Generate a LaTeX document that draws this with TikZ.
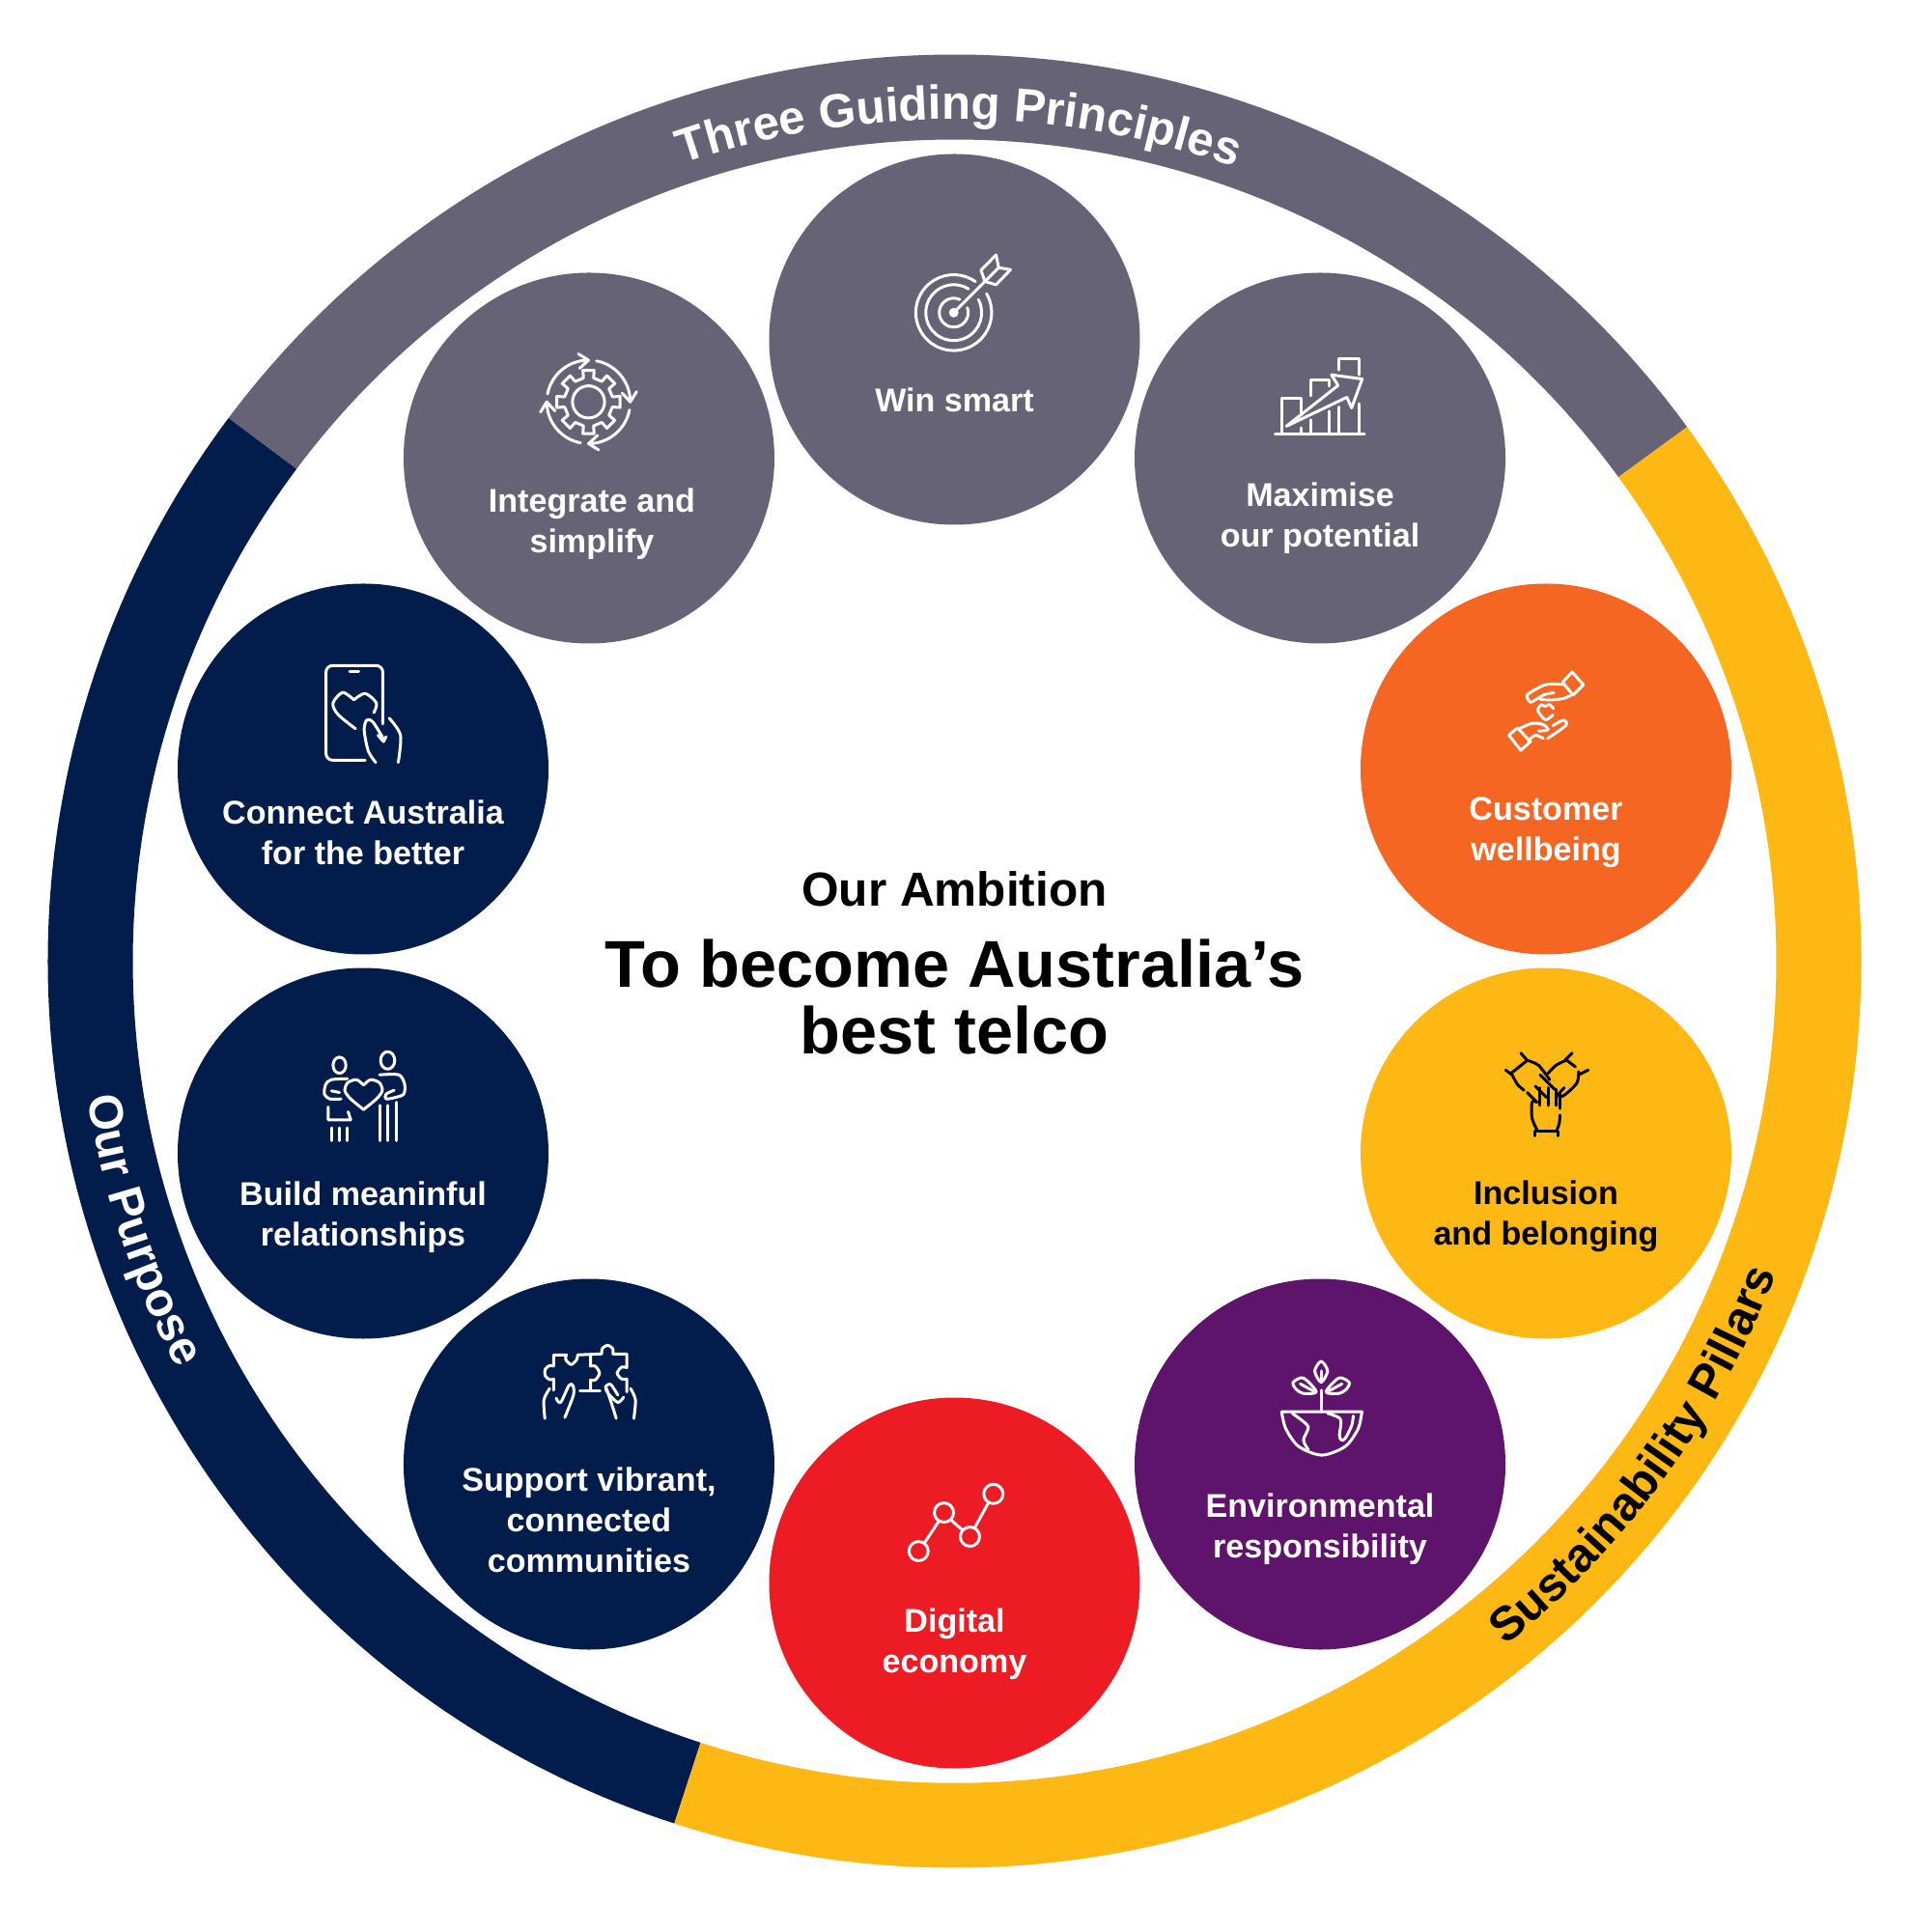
\documentclass[tikz,border=0pt]{standalone}
\usepackage{fontspec}
\setmainfont{Liberation Sans}
\usetikzlibrary{decorations.text}
\definecolor{pgrey}{RGB}{101,99,117}
\definecolor{pnavy}{RGB}{2,28,75}
\definecolor{pyellow}{RGB}{253,184,19}
\definecolor{porange}{RGB}{245,102,35}
\definecolor{pred}{RGB}{237,28,36}
\definecolor{ppurple}{RGB}{95,20,107}
\newcommand{\ringfont}{\bfseries\fontsize{14}{17}\selectfont}
\tikzset{
  pcircle/.style={circle, minimum size=3.84cm, inner sep=0pt},
  plabel/.style={align=center, inner sep=0pt, text=white,
    font=\bfseries\fontsize{9.7}{11.9}\selectfont},
  iconcrop/.style 2 args={shift={({(#1-988.5)/100},{(995.5-#2)/100})},
    x=0.003333cm, y=-0.003333cm},
  iconw/.style={draw=white, line width=0.85pt, line cap=round, line join=round},
  iconk/.style={draw=black, line width=0.85pt, line cap=round, line join=round}
}
\begin{document}
\begin{tikzpicture}
  \useasboundingbox (-9.885,-10.055) rectangle (9.895,9.955);
  % outer ring
  \foreach \c/\s/\e in {pgrey/36.1/143.2, pnavy/143.2/252, pyellow/252/396.1}{
    \fill[\c] (\s:8.51) arc[start angle=\s, end angle=\e, radius=8.51]
      -- (\e:9.39) arc[start angle=\e, end angle=\s, radius=9.39] -- cycle;
  }
  \path[decorate, decoration={text along path, text color=white, text align=center,
    text={|\ringfont|Three Guiding Principles}}]
    (129.7:8.72) arc[start angle=129.7, end angle=49.7, radius=8.72];
  \path[decorate, decoration={text along path, text color=white, text align=center,
    text={|\ringfont|Our Purpose}}]
    (170:9.09) arc[start angle=170, end angle=226.6, radius=9.09];
  \path[decorate, decoration={text along path, text color=black, text align=center,
    text={|\ringfont|Sustainability Pillars}}]
    (-76:9.1) arc[start angle=-76, end angle=4, radius=9.1];

  % circles
  \node[pcircle, fill=pgrey] (winsmart) at (90:6.44) {};
  \node[pcircle, fill=pgrey] (maximise) at (54:6.44) {};
  \node[pcircle, fill=porange] (wellbeing) at (18:6.44) {};
  \node[pcircle, fill=pyellow] (inclusion) at (-18:6.44) {};
  \node[pcircle, fill=ppurple] (environment) at (-54:6.44) {};
  \node[pcircle, fill=pred] (digital) at (-90:6.44) {};
  \node[pcircle, fill=pnavy] (support) at (-126:6.44) {};
  \node[pcircle, fill=pnavy] (build) at (-162:6.44) {};
  \node[pcircle, fill=pnavy] (connect) at (162:6.44) {};
  \node[pcircle, fill=pgrey] (integrate) at (126:6.44) {};

  % labels
  \node[plabel] (wintext) at ([yshift=-6.3mm]winsmart.center) {Win smart};
  \node[plabel] (maxtext) at ([yshift=-6.2mm]maximise.center) {Maximise\\our potential};
  \node[plabel] (welltext) at ([yshift=-6.6mm]wellbeing.center) {Customer\\wellbeing};
  \node[plabel, text=black] (inctext) at ([yshift=-6.5mm]inclusion.center) {Inclusion\\and belonging};
  \node[plabel] (envtext) at ([yshift=-6.7mm]environment.center) {Environmental\\responsibility};
  \node[plabel] (digtext) at ([yshift=-6.3mm]digital.center) {Digital\\economy};
  \node[plabel] (suptext) at ([yshift=-5.8mm]support.center) {Support vibrant,\\connected\\communities};
  \node[plabel] (buildtext) at ([yshift=-6.6mm]build.center) {Build meaninful\\relationships};
  \node[plabel] (context) at ([yshift=-6.6mm]connect.center) {Connect Australia\\for the better};
  \node[plabel] (inttext) at ([xshift=0.3mm,yshift=-6.8mm]integrate.center) {Integrate and\\simplify};

  % centre
  \node[align=center, inner sep=0pt, font=\bfseries\fontsize{14.1}{17}\selectfont] (ambition) at (0,0.75) {Our Ambition};
  \node[align=center, inner sep=0pt, font=\bfseries\fontsize{19.5}{19.4}\selectfont] (telco) at (0,-0.37)
    {To become Australia’s\\best telco};

  % gear
  \begin{scope}[iconcrop={523}{240}]
    \draw[iconw, shift={(260,530)}] (-12:76) \foreach \a in {0,45,...,315}{
      -- (\a-12:76) -- (\a-10:100) -- (\a+10:100) -- (\a+12:76)} -- cycle;
    \draw[iconw] (260,530) circle[radius=50];
    \foreach \r in {0,90,180,270}{
      \draw[iconw, shift={(260,530)}, rotate=\r]
        (191:130) arc[start angle=191, end angle=268, radius=130]
        (258:153) -- (270:130) -- (255:108);
    }
  \end{scope}

  % target
  \begin{scope}[iconcrop={536}{240}]
    \draw[iconw] (1358,252) ++(-30:118) arc[start angle=-30, end angle=305, radius=118];
    \draw[iconw] (1358,252) ++(-28:87) arc[start angle=-28, end angle=302, radius=87];
    \draw[iconw] (1358,252) ++(-20:45) arc[start angle=-20, end angle=295, radius=45];
    \fill[white] (1358,252) circle[radius=15];
    \draw[iconw] (1365,245) -- (1455,155);
    \draw[iconw] (1490,72) -- (1498,112) -- (1535,118) -- (1490,165) -- (1455,155) -- (1443,120) -- cycle;
    \draw[iconw] (1497,113) -- (1460,150);
  \end{scope}

  % chart and hands
  \begin{scope}[iconcrop={1280}{340}]
    \draw[iconw] (122,330) -- (400,330);
    \draw[iconw] (142,330) -- (142,218) -- (203,218) -- (203,270) (203,310) -- (203,330);
    \draw[iconw] (232,330) -- (232,285) (232,210) -- (232,160) -- (290,160) -- (290,180) (290,258) -- (290,330);
    \draw[iconw] (320,130) -- (320,95) -- (382,95) -- (382,145) (320,245) -- (320,330) (382,235) -- (382,330);
    \draw[iconw] (157,305) -- (318,178) -- (297,145) -- (393,158) -- (360,248) -- (345,215) -- cycle;
  \end{scope}
  \begin{scope}[iconcrop={1540}{680}]
    \draw[iconw] (235,80) -- (265,48) -- (300,88) -- (268,120) -- cycle;
    \draw[iconw] plot[smooth] coordinates {(237,87) (200,85) (170,92) (125,120) (135,142) (150,135) (180,118) (208,113)};
    \draw[iconw] plot[smooth] coordinates {(165,133) (200,135) (240,130) (265,118)};
    \draw[iconw] plot[smooth] coordinates {(180,155) (168,150) (158,165) (165,180) (183,197) (205,182)};
    \draw[iconw] plot[smooth] coordinates {(180,155) (195,150) (207,162)};
    \draw[iconw] (68,245) -- (95,222) -- (135,265) -- (105,292) -- cycle;
    \draw[iconw] plot[smooth] coordinates {(100,225) (140,208) (175,212) (190,228) (160,232)};
    \draw[iconw] plot[smooth] coordinates {(205,215) (238,198) (245,215) (188,255)};
    \draw[iconw] plot[smooth] coordinates {(128,263) (150,245) (175,255)};
  \end{scope}

  % people
  \begin{scope}[iconcrop={300}{660}, rounded corners=2pt]
    \draw[iconw] (290,270) -- (290,88) -- (113,88) -- (113,383) -- (235,383);
    \draw[iconw] (187,108) -- (215,108);
  \end{scope}
  \begin{scope}[iconcrop={300}{660}]
    \draw[iconw] plot[smooth] coordinates {(200,195) (165,172) (135,205) (150,240) (205,285)};
    \draw[iconw] plot[smooth] coordinates {(200,195) (235,175) (270,205) (262,235)};
    \draw[iconw] plot[smooth] coordinates {(268,390) (245,355) (232,290) (240,258) (260,265) (295,322)};
    \draw[iconw] plot[smooth] coordinates {(310,252) (345,305) (338,390)};
    \draw[iconw] (275,305) -- (292,325) -- (300,310);
  \end{scope}
  \begin{scope}[iconcrop={310}{1070}]
    \draw[iconw] (125,100) ellipse[x radius=20, y radius=25];
    \draw[iconw] (275,85) ellipse[x radius=22, y radius=27];
    \draw[iconw] plot[smooth] coordinates {(150,142) (100,145) (82,160) (78,190) (95,205) (130,205)};
    \draw[iconw] (100,180) -- (125,185);
    \draw[iconw] (90,230) -- (90,270) -- (160,270) -- (152,245);
    \foreach \x in {100,125,150}{ \draw[iconw] (\x,295) -- (\x,335); }
    \draw[iconw] plot[smooth] coordinates {(250,130) (310,130) (328,160) (325,190) (300,200) (270,205) (270,190) (295,178)};
    \draw[iconw] (250,225) -- (250,335) (275,225) -- (275,335) (302,215) -- (302,335);
    \draw[iconw] plot[smooth] coordinates {(200,162) (178,145) (150,155) (142,180) (160,205) (200,238)};
    \draw[iconw] plot[smooth] coordinates {(200,162) (222,145) (250,155) (258,180) (240,205) (200,238)};
  \end{scope}
  \begin{scope}[iconcrop={540}{1370}]
    \draw[iconw] (100,210) -- (100,175) -- plot[smooth] coordinates {(100,175) (88,177) (74,165) (74,145) (88,133) (100,135)}
      -- (100,100) -- (140,100)
      -- plot[smooth] coordinates {(140,100) (138,115) (155,130) (172,115) (175,100)} -- (250,97)
      -- plot[smooth] coordinates {(250,97) (252,80) (268,70) (284,80) (285,97)} -- (328,97) -- (328,140)
      -- plot[smooth] coordinates {(328,140) (312,138) (298,157) (312,175) (328,175)} -- (328,215);
    \draw[iconw] (215,100) -- (215,135) -- plot[smooth] coordinates {(215,135) (230,135) (243,157) (230,178) (215,178)} -- (215,210);
    \draw[iconw] (182,212) -- (245,212);
    \draw[iconw] plot[smooth] coordinates {(88,205) (70,240) (73,298)};
    \draw[iconw] plot[smooth] coordinates {(108,235) (122,248) (148,195) (160,195) (162,225) (135,295)};
    \draw[iconw] plot[smooth] coordinates {(318,232) (300,248) (270,220) (262,200) (278,192) (300,225)};
    \draw[iconw] plot[smooth] coordinates {(265,205) (285,265) (295,298)};
    \draw[iconw] plot[smooth] coordinates {(340,205) (355,240) (350,298)};
  \end{scope}

  % line graph
  \begin{scope}[iconcrop={920}{1520}]
    \draw[iconw] (94,260) circle[radius=30] (173,140) circle[radius=30] (254,215) circle[radius=30] (327,82) circle[radius=30];
    \draw[iconw] (112,235) -- (155,170) (197,165) -- (228,192) (270,185) -- (310,112);
  \end{scope}

  % globe and plant
  \begin{scope}[iconcrop={1300}{1390}]
    \draw[iconw] (82,217) -- (332,217) -- plot[smooth] coordinates {(332,217) (320,270) (280,325) (207,352) (135,325) (95,270) (82,217)};
    \draw[iconw] plot[smooth] coordinates {(115,222) (140,240) (165,265) (150,305) (165,335)};
    \draw[iconw] plot[smooth] coordinates {(225,222) (265,240) (262,290) (268,305) (280,300) (300,260) (305,230)};
    \draw[iconw] (205,217) -- (205,150);
    \draw[iconw] plot[smooth cycle] coordinates {(205,60) (185,90) (205,125) (225,90)};
    \draw[iconw] (205,90) -- (205,125);
    \draw[iconw] plot[smooth cycle] coordinates {(118,125) (150,112) (190,155) (150,160) (125,145)};
    \draw[iconw] plot[smooth cycle] coordinates {(292,125) (260,112) (220,155) (260,160) (285,145)};
    \draw[iconw] (140,130) -- (180,152) (270,130) -- (230,152);
  \end{scope}

  % joined hands
  \begin{scope}[iconcrop={1540}{1070}]
    \draw[iconk] (150,320) -- (150,305) -- (222,305) -- (222,320);
    \draw[iconk] plot[smooth] coordinates {(155,300) (140,265) (140,215) (155,215)};
    \draw[iconk] (165,170) -- (165,225) (190,170) -- (190,225) (215,175) -- (215,225);
    \draw[iconk] (228,190) -- (228,235);
    \draw[iconk] plot[smooth] coordinates {(227,255) (225,280) (218,300)};
    \draw[iconk] (105,62) -- (125,85) -- (75,125) (58,115) -- (78,130);
    \draw[iconk] plot[smooth] coordinates {(125,85) (160,100) (195,145)};
    \draw[iconk] plot[smooth] coordinates {(78,130) (95,160) (115,178)};
    \draw[iconk] (125,185) -- (155,215) (150,165) -- (185,200) (165,130) -- (210,175);
    \draw[iconk] (265,62) -- (245,82) -- (275,105) (315,115) -- (285,130);
    \draw[iconk] plot[smooth] coordinates {(190,125) (215,100) (245,85)};
    \draw[iconk] plot[smooth] coordinates {(285,120) (280,155) (245,190) (225,200)};
    \draw[iconk] (240,170) -- (218,195);
  \end{scope}
\end{tikzpicture}
\end{document}
